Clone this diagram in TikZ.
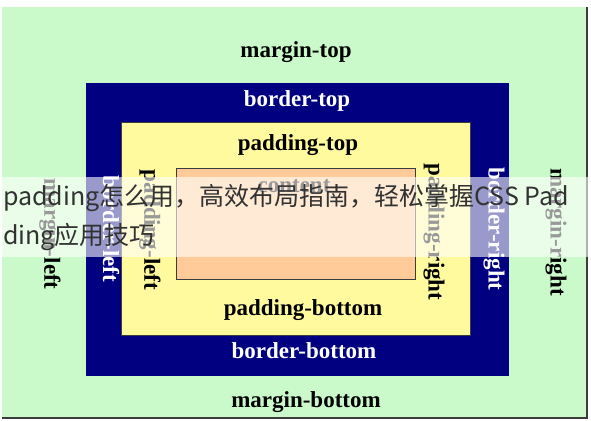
\documentclass[tikz,border=0pt]{standalone}
\usepackage{fontspec}
\setmainfont{Liberation Serif}
\newfontfamily\cjk{Noto Sans CJK SC}
\definecolor{margincol}{RGB}{202,250,202}
\definecolor{bordercol}{RGB}{0,0,128}
\definecolor{paddingcol}{RGB}{255,250,158}
\definecolor{contentcol}{RGB}{255,204,153}
\definecolor{edgecol}{RGB}{60,60,60}
\definecolor{bannertext}{RGB}{50,50,50}
\begin{document}
\begin{tikzpicture}[x=1pt,y=-1pt,
  lab/.style={font=\bfseries\fontsize{23}{23}\selectfont, inner sep=0pt, anchor=base},
  darklab/.style={lab, text=black},
  lightlab/.style={lab, text=white},
  vlab/.style={font=\bfseries\fontsize{23}{23}\selectfont, inner sep=0pt, rotate=-90},
  banner/.style={font=\cjk\fontsize{25}{25}\selectfont, text=bannertext, inner sep=0pt, anchor=base west}]
\useasboundingbox (0,0) rectangle (591,420);
\fill[white] (0,0) rectangle (591,420);
% margin area
\fill[margincol] (2,7) rectangle (587,418);
\draw[edgecol, line width=1.5pt] (587,7) -- (587,418) -- (2,418);
% border area
\fill[bordercol] (86,83) rectangle (509,376);
% padding area
\filldraw[fill=paddingcol, draw=edgecol, line width=1pt] (121,122) rectangle (470,335);
% content area
\filldraw[fill=contentcol, draw=edgecol, line width=1pt] (176,168) rectangle (415,279);
% labels
\node[darklab] (mt) at (296,57) {margin-top};
\node[lightlab] (bt) at (297,106) {border-top};
\node[darklab] (pt) at (298,150) {padding-top};
\node[darklab] (ct) at (294,192) {content};
\node[darklab] (pb) at (303,315) {padding-bottom};
\node[lightlab] (bb) at (304,358) {border-bottom};
\node[darklab] (mb) at (306,407) {margin-bottom};
\node[vlab, text=black] (ml) at (50,234) {margin-left};
\node[vlab, text=white] (bl) at (111,229) {border-left};
\node[vlab, text=black] (pl) at (150,230) {padding-left};
\node[vlab, text=black] (pr) at (434,232) {padding-right};
\node[vlab, text=white] (br) at (494,229) {border-right};
\node[vlab, text=black] (mr) at (556,232) {margin-right};
% banner overlay
\fill[white, opacity=0.6] (0,177) rectangle (591,257);
\node[banner] (l1) at (3,205) {padding怎么用，高效布局指南，轻松掌握CSS Pad};
\node[banner] (l2) at (3,244) {ding应用技巧};
\end{tikzpicture}
\end{document}
